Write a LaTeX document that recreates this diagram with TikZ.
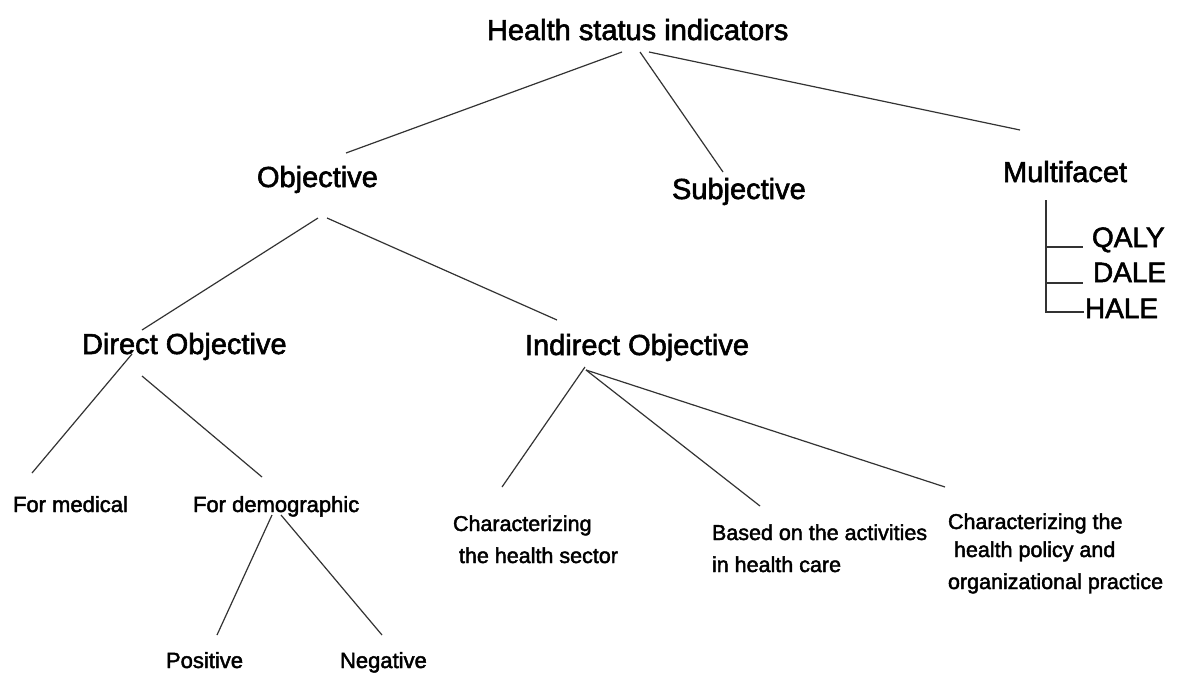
\documentclass[tikz,border=0pt]{standalone}
\usepackage{fontspec}
\setmainfont{Liberation Sans}[FakeBold=2]
\begin{document}
\begin{tikzpicture}[x=1pt,y=-1pt,
  lbl/.style={inner sep=0pt,outer sep=0pt,anchor=base west,text=black},
  big/.style={lbl,font=\fontsize{29}{34}\selectfont},
  mid/.style={lbl,font=\fontsize{28}{32}\selectfont},
  small/.style={lbl,font=\fontsize{22}{26}\selectfont},
  note/.style={lbl,align=left,font=\fontsize{21.5}{32}\selectfont},
  link/.style={draw=black!80,line width=1.2pt}]
\useasboundingbox[fill=white] (0,0) rectangle (1181,673);

% tree labels (multi-line labels are placed by the baseline of their last line)
\node[big] (hsi) at (487,40) {Health status indicators};
\node[big] (obj) at (257,187) {Objective};
\node[big] (subj) at (672,199) {Subjective};
\node[big] (multi) at (1003,182) {Multifacet};
\node[big] (dir) at (82,354) {Direct Objective};
\node[big] (ind) at (525,355) {Indirect Objective};
\node[mid] (qaly) at (1092,247) {QALY};
\node[mid] (dale) at (1093,282) {DALE};
\node[mid] (hale) at (1085,318) {HALE};
\node[small] (med) at (13,512) {For medical};
\node[small] (dem) at (193,512) {For demographic};
\node[small] (pos) at (166,668) {Positive};
\node[small] (neg) at (340,668) {Negative};
\node[note] (sect) at (453,563) {Characterizing\\\hspace{6pt}the health sector};
\node[note] (act) at (712,572) {Based on the activities\\in health care};
\node[note] (pol) at (948,589) {Characterizing the\\[-4pt]\hspace{6pt}health policy and\\organizational practice};

% end points of the connectors
\coordinate (hsi-o) at (622,52);   \coordinate (obj-t) at (346,153);
\coordinate (hsi-s) at (640,52);   \coordinate (subj-t) at (723,172);
\coordinate (hsi-m) at (649,52);   \coordinate (multi-t) at (1020,130);
\coordinate (obj-d) at (318,218);  \coordinate (dir-t) at (142,330);
\coordinate (obj-i) at (327,218);  \coordinate (ind-t) at (557,320);
\coordinate (dir-m) at (132,354);  \coordinate (med-t) at (32,473);
\coordinate (dir-d) at (142,376);  \coordinate (dem-t) at (262,477);
\coordinate (dem-p) at (272,515);  \coordinate (pos-t) at (217,635);
\coordinate (dem-n) at (281,515);  \coordinate (neg-t) at (382,635);
\coordinate (ind-a) at (585,367);  \coordinate (sect-t) at (502,487);
\coordinate (ind-b) at (586,370);  \coordinate (act-t) at (760,506);
                                   \coordinate (pol-t) at (945,487);
\coordinate (br-top) at (1046,200);
\coordinate (br-q) at (1046,247);  \coordinate (qaly-l) at (1083,247);
\coordinate (br-d) at (1046,283);  \coordinate (dale-l) at (1083,283);
\coordinate (br-h) at (1046,312);  \coordinate (hale-l) at (1084,312);

% connectors
\draw[link] (hsi-o) -- (obj-t);
\draw[link] (hsi-s) -- (subj-t);
\draw[link] (hsi-m) -- (multi-t);
\draw[link] (obj-d) -- (dir-t);
\draw[link] (obj-i) -- (ind-t);
\draw[link] (dir-m) -- (med-t);
\draw[link] (dir-d) -- (dem-t);
\draw[link] (dem-p) -- (pos-t);
\draw[link] (dem-n) -- (neg-t);
\draw[link] (ind-a) -- (sect-t);
\draw[link] (ind-b) -- (act-t);
\draw[link] (ind-b) -- (pol-t);

% bracket under Multifacet
\draw[link] (br-top) -- (br-h) -- (hale-l);
\draw[link] (br-q) -- (qaly-l);
\draw[link] (br-d) -- (dale-l);
\end{tikzpicture}
\end{document}
